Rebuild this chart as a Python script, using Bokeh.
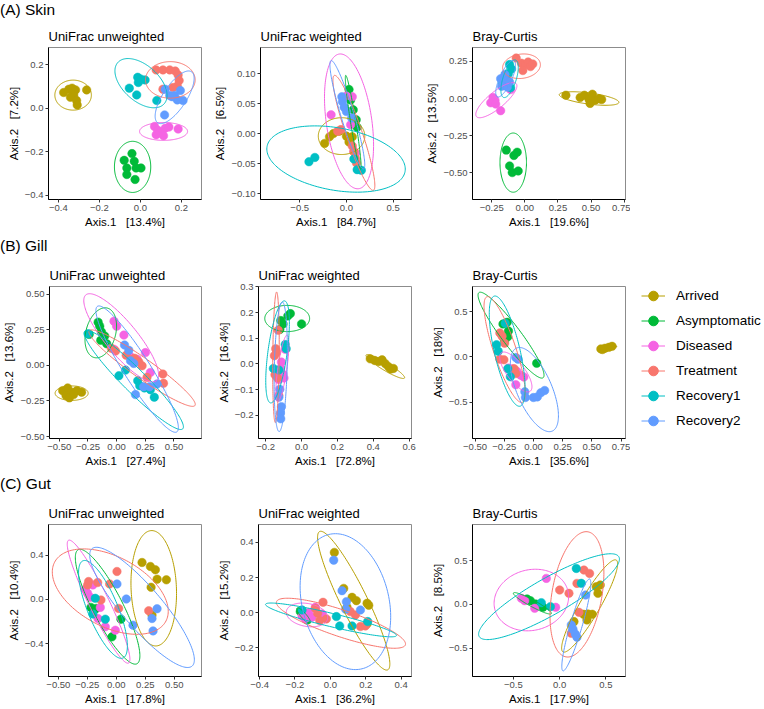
import numpy as np
from bokeh.plotting import figure
from bokeh.models import Range1d, FixedTicker, Div, Legend, LegendItem
from bokeh.layouts import row, column
from bokeh.embed import file_html
from bokeh.resources import INLINE

FONT = "Liberation Sans"
GROUPS = ["Arrived", "Asymptomatic", "Diseased", "Treatment", "Recovery1", "Recovery2"]
COLORS = ["#B79F00", "#00BA38", "#F564E3", "#F8766D", "#00BFC4", "#619CFF"]
ROW_TITLES = ["(A) Skin", "(B) Gill", "(C) Gut"]
PANEL_TITLES = ["UniFrac unweighted", "UniFrac weighted", "Bray-Curtis"]
GAP = "\u00a0\u00a0\u00a0"

# ---------------- (A) Skin ----------------
skin_unw_pts = {
    "Arrived": ([-0.374, -0.349, -0.333, -0.316, -0.325, -0.341, -0.311, -0.308, -0.262],
                [0.072, 0.087, 0.092, 0.084, 0.061, 0.050, 0.035, 0.015, 0.084]),
    "Asymptomatic": ([-0.041, -0.079, -0.030, -0.066, 0.003, -0.021, -0.066, -0.026],
                     [-0.209, -0.240, -0.244, -0.275, -0.275, -0.275, -0.305, -0.328]),
    "Diseased": ([0.069, 0.085, 0.102, 0.121, 0.139, 0.077, 0.113, 0.184],
                 [-0.084, -0.102, -0.111, -0.092, -0.087, -0.122, -0.127, -0.096]),
    "Treatment": ([0.077, 0.110, 0.143, 0.170, 0.184, 0.189, 0.180, 0.159, 0.110],
                  [0.176, 0.176, 0.176, 0.171, 0.153, 0.127, 0.102, 0.095, 0.087]),
    "Recovery1": ([-0.013, 0.003, -0.010, 0.023, -0.054, -0.018, 0.080],
                  [0.142, 0.133, 0.118, 0.130, 0.092, 0.061, 0.035]),
    "Recovery2": ([0.121, 0.143, 0.167, 0.195, 0.208, 0.180, 0.118, 0.154],
                  [0.087, 0.058, 0.058, 0.081, 0.035, 0.038, -0.031, 0.053]),
}
# ellipse: centre x, centre y, semi-axis vector u (x, y), conjugate semi-axis vector v (x, y)
skin_unw_ell = {
    "Arrived": (-0.328, 0.060, 0.089, 0.0, 0.0, 0.069),
    "Asymptomatic": (-0.038, -0.270, 0.0, 0.1176, 0.0885, 0.0),
    "Diseased": (0.113, -0.107, 0.117, 0.0, 0.0, 0.041),
    "Treatment": (0.146, 0.130, 0.121, 0.0, 0.0, 0.084),
    "Recovery1": (0.003, 0.115, 0.112, -0.096, 0.060, 0.060),
    "Recovery2": (0.167, 0.050, 0.082, 0.1176, 0.048, -0.029),
}
skin_unw_axes = ("Axis.1" + GAP + "[13.4%]", "Axis.2" + GAP + "[7.2%]")
skin_unw_xticks = [-0.4, -0.2, 0.0, 0.2]
skin_unw_xlabels = ["\u22120.4", "\u22120.2", "0.0", "0.2"]
skin_unw_yticks = [-0.4, -0.2, 0.0, 0.2]
skin_unw_ylabels = ["\u22120.4", "\u22120.2", "0.0", "0.2"]

skin_w_pts = {
    "Arrived": ([-0.233, -0.181, -0.139, -0.077, 0.0, 0.028, 0.063],
                [-0.0159, -0.0049, 0.0005, 0.0044, -0.0038, -0.0137, -0.0049]),
    "Asymptomatic": ([0.028, 0.045, 0.073, 0.105, 0.115],
                     [0.0739, 0.0564, 0.040, 0.0235, 0.011]),
    "Diseased": ([-0.164, 0.0, 0.063, 0.045, 0.080, 0.098],
                 [0.0318, 0.063, 0.0619, 0.0153, -0.0285, -0.0323]),
    "Treatment": ([-0.094, -0.059, 0.063, 0.080, 0.098, 0.108],
                  [0.0044, 0.0071, -0.0203, -0.0301, -0.0411, -0.0487]),
    "Recovery1": ([-0.401, -0.338, 0.080, 0.115, 0.160],
                  [-0.0465, -0.0394, -0.042, -0.0597, -0.0608]),
    "Recovery2": ([-0.049, -0.042, -0.024, 0.0, 0.056],
                  [0.0619, 0.0537, 0.0444, 0.0372, 0.0263]),
}
skin_w_ell = {
    "Arrived": (-0.052, -0.0038, 0.249, 0.0, 0.0, 0.0307),
    "Asymptomatic": (0.073, 0.0192, -0.080, 0.0783, 0.0275, 0.0007),
    "Diseased": (0.028, 0.0208, -0.1045, 0.1123, 0.241, 0.0055),
    "Treatment": (0.080, 0.0016, 0.209, -0.0958, 0.082, 0.0044),
    "Recovery1": (-0.111, -0.042, 0.739, -0.0208, -0.058, -0.0512),
    "Recovery2": (0.010, 0.0318, -0.174, 0.0904, 0.067, 0.0032),
}
skin_w_axes = ("Axis.1" + GAP + "[84.7%]", "Axis.2" + GAP + "[6.5%]")
skin_w_xticks = [-0.5, 0.0, 0.5]
skin_w_xlabels = ["\u22120.5", "0.0", "0.5"]
skin_w_yticks = [-0.10, -0.05, 0.0, 0.05, 0.10]
skin_w_ylabels = ["\u22120.10", "\u22120.05", "0.00", "0.05", "0.10"]

skin_bc_pts = {
    "Arrived": ([0.31, 0.4175, 0.45, 0.485, 0.51, 0.53, 0.56, 0.58, 0.4925],
                [0.022, 0.0066, 0.022, -0.0066, 0.0288, -0.011, -0.002, -0.0066, -0.033]),
    "Asymptomatic": ([-0.14, -0.0825, -0.0575, -0.115, -0.095, -0.05],
                     [-0.347, -0.383, -0.361, -0.4535, -0.498, -0.487]),
    "Diseased": ([-0.24, -0.225, -0.2575, -0.22, -0.1825, -0.1075],
                 [0.0066, -0.011, -0.0288, -0.0376, -0.082, 0.06]),
    "Treatment": ([-0.065, -0.025, 0.005, 0.025, 0.0425, 0.06, -0.015],
                  [0.272, 0.237, 0.228, 0.2456, 0.2146, 0.232, 0.188]),
    "Recovery1": ([-0.115, -0.1, -0.125, -0.17, -0.1075],
                  [0.228, 0.199, 0.166, 0.0995, 0.073]),
    "Recovery2": ([-0.1825, -0.15, -0.14, -0.175, -0.1325, -0.115],
                  [0.133, 0.1615, 0.117, 0.082, 0.077, 0.1106]),
}
skin_bc_ell = {
    "Arrived": (0.485, 0.0, 0.225, -0.0265, -0.0056, -0.037),
    "Asymptomatic": (-0.0875, -0.431, 0.0, 0.199, 0.1, 0.0),
    "Diseased": (-0.215, -0.011, 0.15, 0.1106, 0.04, -0.042),
    "Treatment": (-0.025, 0.217, 0.1425, 0.01, 0.0, 0.082),
    "Recovery1": (-0.115, 0.133, 0.045, 0.126, 0.0477, -0.0133),
    "Recovery2": (-0.145, 0.133, 0.0625, 0.1217, 0.041, -0.0166),
}
skin_bc_axes = ("Axis.1" + GAP + "[19.6%]", "Axis.2" + GAP + "[13.5%]")
skin_bc_xticks = [-0.25, 0.0, 0.25, 0.5, 0.75]
skin_bc_xlabels = ["\u22120.25", "0.00", "0.25", "0.50", "0.75"]
skin_bc_yticks = [-0.5, -0.25, 0.0, 0.25]
skin_bc_ylabels = ["\u22120.50", "\u22120.25", "0.00", "0.25"]

# ---------------- (B) Gill ----------------
gill_unw_pts = {
    "Arrived": ([-0.47, -0.4265, -0.392, -0.346, -0.305, -0.441, -0.412, -0.375],
                [-0.177, -0.158, -0.188, -0.177, -0.188, -0.212, -0.228, -0.205]),
    "Asymptomatic": ([-0.239, -0.161, -0.147, -0.1325, -0.104, -0.138, -0.0865],
                     [0.219, 0.305, 0.277, 0.237, 0.207, 0.177, 0.153]),
    "Diseased": ([-0.023, 0.0, 0.0634, -0.023, 0.115, 0.251, 0.294, 0.179],
                 [0.3116, 0.277, 0.214, 0.114, 0.0674, 0.0907, -0.049, 0.044]),
    "Treatment": ([-0.046, -0.0086, 0.0836, 0.156, 0.193, 0.222, 0.265, 0.403, 0.409],
                  [0.121, 0.102, 0.072, 0.051, 0.0256, -0.0023, -0.0837, -0.0605, -0.1256]),
    "Recovery1": ([-0.248, 0.020, 0.078, 0.184, 0.2017, 0.242, 0.294, 0.3285],
                  [0.223, -0.072, -0.0326, -0.107, -0.142, -0.158, -0.17, -0.223]),
    "Recovery2": ([0.069, 0.1066, 0.121, 0.15, 0.236, 0.288, 0.164, 0.352],
                  [0.144, 0.107, 0.0326, 0.014, -0.149, -0.149, -0.205, -0.130]),
}
gill_unw_ell = {
    "Arrived": (-0.392, -0.195, 0.144, 0.0, 0.0, 0.051),
    "Asymptomatic": (-0.138, 0.230, 0.0576, 0.174, 0.125, -0.027),
    "Diseased": (0.040, 0.195, -0.308, 0.302, 0.107, 0.071),
    "Treatment": (0.222, -0.0186, 0.461, -0.263, -0.05, -0.057),
    "Recovery1": (0.150, -0.102, 0.4265, -0.344, -0.071, -0.0575),
    "Recovery2": (0.179, -0.0256, 0.346, -0.442, -0.0975, -0.0497),
}
gill_unw_axes = ("Axis.1" + GAP + "[27.4%]", "Axis.2" + GAP + "[13.6%]")
gill_unw_xticks = [-0.5, -0.25, 0.0, 0.25, 0.5]
gill_unw_xlabels = ["\u22120.50", "\u22120.25", "0.00", "0.25", "0.50"]
gill_unw_yticks = [-0.5, -0.25, 0.0, 0.25, 0.5]
gill_unw_ylabels = ["\u22120.50", "\u22120.25", "0.00", "0.25", "0.50"]

gill_w_pts = {
    "Arrived": ([0.383, 0.408, 0.431, 0.449, 0.467, 0.485, 0.497, 0.512],
                [0.0199, 0.0136, 0.0099, 0.0161, 0.0012, -0.011, -0.0199, -0.0174]),
    "Asymptomatic": ([-0.116, -0.103, -0.0766, -0.0624, 0.0, -0.121],
                     [0.169, 0.156, 0.187, 0.196, 0.156, 0.134]),
    "Diseased": ([-0.091, -0.112, -0.116, -0.1034, -0.1266, -0.098],
                 [0.057, 0.0074, -0.0174, -0.0397, -0.0608, -0.0546]),
    "Treatment": ([-0.130, -0.144, -0.1515, -0.139, -0.148, -0.134, -0.1266],
                  [0.1315, 0.0596, 0.0323, 0.0447, -0.042, -0.0546, -0.1228]),
    "Recovery1": ([-0.157, -0.091, -0.0856, -0.1266],
                  [-0.0174, 0.0757, 0.0596, -0.0236]),
    "Recovery2": ([-0.121, -0.1266, -0.1123, -0.1176, -0.116],
                  [-0.098, -0.129, -0.166, -0.191, -0.2134]),
}
gill_w_ell = {
    "Arrived": (0.467, -0.0099, 0.107, -0.0447, -0.011, -0.0128),
    "Asymptomatic": (-0.080, 0.177, 0.125, 0.0, 0.0, 0.051),
    "Diseased": (-0.107, -0.0174, 0.0267, 0.130, 0.0248, -0.0025),
    "Treatment": (-0.1426, 0.026, 0.0036, 0.254, 0.0178, 0.0),
    "Recovery1": (-0.1337, 0.047, 0.039, 0.1985, 0.053, -0.0051),
    "Recovery2": (-0.116, -0.011, -0.0089, -0.252, 0.0357, 0.0),
}
gill_w_axes = ("Axis.1" + GAP + "[72.8%]", "Axis.2" + GAP + "[16.4%]")
gill_w_xticks = [-0.2, 0.0, 0.2, 0.4, 0.6]
gill_w_xlabels = ["\u22120.2", "0.0", "0.2", "0.4", "0.6"]
gill_w_yticks = [-0.2, -0.1, 0.0, 0.1, 0.2, 0.3]
gill_w_ylabels = ["\u22120.2", "\u22120.1", "0.0", "0.1", "0.2", "0.3"]

gill_bc_pts = {
    "Arrived": ([0.577, 0.6126, 0.6456, 0.673, 0.591],
                [0.0887, 0.0957, 0.106, 0.117, 0.0816]),
    "Asymptomatic": ([-0.261, -0.225, -0.214, -0.22, -0.247, 0.0275],
                     [0.365, 0.383, 0.287, 0.223, 0.181, -0.071]),
    "Diseased": ([-0.214, -0.1786, -0.143, -0.11, -0.0824, -0.151],
                 [-0.124, -0.131, -0.16, -0.202, -0.223, -0.3085]),
    "Treatment": ([-0.288, -0.269, -0.247, -0.288, -0.253, -0.151, -0.165],
                  [0.266, 0.230, 0.152, -0.0248, -0.032, -0.184, -0.131]),
    "Recovery1": ([-0.316, -0.302, -0.242, -0.198, -0.22],
                  [0.1348, 0.0638, 0.372, -0.22, -0.131]),
    "Recovery2": ([-0.151, -0.132, -0.074, -0.0687, 0.0, 0.033, 0.063, 0.096],
                  [-0.007, -0.025, -0.3865, -0.45, -0.45, -0.443, -0.397, -0.372]),
}
gill_bc_ell = {
    "Arrived": (0.632, 0.099, 0.0824, 0.0177, -0.003, 0.014),
    "Asymptomatic": (-0.192, 0.241, 0.2747, -0.4716, -0.066, -0.0638),
    "Diseased": (-0.151, -0.1667, 0.1236, -0.2128, -0.0615, -0.0596),
    "Treatment": (-0.247, 0.0816, 0.151, -0.585, -0.091, -0.039),
    "Recovery1": (-0.225, 0.0638, 0.11, -0.61, -0.107, -0.032),
    "Recovery2": (0.008, -0.362, 0.151, -0.461, -0.14, -0.07),
}
gill_bc_axes = ("Axis.1" + GAP + "[35.6%]", "Axis.2" + GAP + "[18%]")
gill_bc_xticks = [-0.5, -0.25, 0.0, 0.25, 0.5, 0.75]
gill_bc_xlabels = ["\u22120.50", "\u22120.25", "0.00", "0.25", "0.50", "0.75"]
gill_bc_yticks = [-0.5, 0.0, 0.5]
gill_bc_ylabels = ["\u22120.5", "0.0", "0.5"]

# ---------------- (C) Gut ----------------
gut_unw_pts = {
    "Arrived": ([0.222, 0.294, 0.337, 0.352, 0.432, 0.30, 0.308],
                [0.333, 0.297, 0.267, 0.182, 0.176, 0.109, -0.142]),
    "Asymptomatic": ([-0.219, -0.173, -0.196, -0.0375, 0.040],
                     [-0.0727, -0.082, -0.103, -0.339, -0.179]),
    "Diseased": ([-0.268, -0.248, -0.225, -0.138, -0.1585, -0.095, -0.0086, -0.202],
                 [0.0909, 0.0545, 0.018, -0.0727, -0.173, -0.248, -0.279, 0.130]),
    "Treatment": ([0.0058, -0.239, -0.161, -0.0576, -0.1326, 0.020, 0.2795, -0.248],
                  [0.2515, 0.161, 0.1515, 0.139, -0.006, -0.082, -0.103, 0.130]),
    "Recovery1": ([-0.1815, -0.095, -0.2017],
                  [0.009, -0.179, -0.133]),
    "Recovery2": ([0.0058, 0.0865, 0.144, 0.3516, 0.308, 0.317],
                  [0.139, 0.003, -0.233, -0.085, -0.173, -0.285]),
}
gut_unw_ell = {
    "Arrived": (0.323, 0.100, -0.015, 0.521, 0.196, -0.006),
    "Asymptomatic": (-0.075, -0.0667, 0.2536, -0.515, -0.115, -0.0627),
    "Diseased": (-0.153, -0.021, 0.259, -0.5545, -0.0775, -0.04),
    "Treatment": (-0.052, 0.0697, 0.49, -0.2424, -0.1, -0.3),
    "Recovery1": (-0.115, -0.091, 0.173, -0.439, -0.12, -0.052),
    "Recovery2": (0.222, -0.0727, 0.432, -0.53, -0.131, -0.118),
}
gut_unw_axes = ("Axis.1" + GAP + "[17.8%]", "Axis.2" + GAP + "[10.4%]")
gut_unw_xticks = [-0.5, -0.25, 0.0, 0.25, 0.5]
gut_unw_xlabels = ["\u22120.50", "\u22120.25", "0.00", "0.25", "0.50"]
gut_unw_yticks = [-0.4, 0.0, 0.4]
gut_unw_ylabels = ["\u22120.4", "0.0", "0.4"]

gut_w_pts = {
    "Arrived": ([0.0226, 0.0755, 0.1226, 0.147, 0.0943, 0.2075, 0.217, 0.2075],
                [0.343, 0.138, 0.087, 0.068, 0.030, 0.053, 0.0417, -0.064]),
    "Asymptomatic": ([-0.17, -0.155, -0.145, -0.132],
                     [0.0057, -0.0076, -0.0227, -0.0417]),
    "Diseased": ([-0.085, -0.1226, -0.104, -0.1415, -0.16, -0.047],
                 [0.030, 0.0, -0.0265, -0.036, -0.019, -0.0076]),
    "Treatment": ([-0.0415, -0.085, -0.0717, -0.060, -0.0226, 0.113, 0.1415, 0.17, 0.198],
                  [0.0587, 0.0246, -0.0038, -0.045, -0.036, 0.0057, -0.0133, -0.0795, -0.0758]),
    "Recovery1": ([0.034, 0.0528, 0.1226, 0.211, -0.16],
                  [-0.0227, -0.0758, -0.0758, -0.051, 0.015]),
    "Recovery2": ([0.0189, 0.066, 0.0906, 0.0868, 0.17],
                  [0.299, 0.125, 0.0625, 0.019, 0.015]),
}
gut_w_ell = {
    "Arrived": (0.132, 0.068, -0.1925, 0.394, 0.068, 0.0333),
    "Asymptomatic": (-0.151, -0.017, 0.0377, -0.0436, -0.0113, -0.0099),
    "Diseased": (-0.132, -0.0133, 0.117, -0.015, 0.0, 0.066),
    "Treatment": (0.060, -0.0606, 0.364, -0.123, -0.024, -0.072),
    "Recovery1": (0.0038, -0.0417, 0.37, -0.089, -0.0088, -0.0368),
    "Recovery2": (0.085, 0.0625, -0.094, 0.3826, 0.238, 0.059),
}
gut_w_axes = ("Axis.1" + GAP + "[36.2%]", "Axis.2" + GAP + "[15.2%]")
gut_w_xticks = [-0.4, -0.2, 0.0, 0.2, 0.4]
gut_w_xlabels = ["\u22120.4", "\u22120.2", "0.0", "0.2", "0.4"]
gut_w_yticks = [-0.2, 0.0, 0.2, 0.4]
gut_w_ylabels = ["\u22120.2", "0.0", "0.2", "0.4"]

gut_bc_pts = {
    "Arrived": ([0.3957, 0.439, 0.4137, 0.259, 0.306, 0.3525, 0.295, 0.1547],
                [0.2015, 0.2205, 0.1255, -0.114, -0.110, -0.114, -0.1787, -0.1977]),
    "Asymptomatic": ([-0.3525, -0.3165, -0.259, -0.2086, -0.18],
                     [0.061, 0.0418, 0.0038, -0.0076, -0.034]),
    "Diseased": ([-0.144, -0.4137, -0.378, -0.27, -0.043],
                 [0.2966, 0.0684, 0.0418, -0.0456, -0.034]),
    "Treatment": ([0.2626, 0.3237, 0.0, 0.1007, 0.187, 0.2086, 0.126],
                  [0.3916, 0.3536, 0.1635, 0.1255, 0.2395, -0.0913, -0.331]),
    "Recovery1": ([0.18, 0.234, -0.198, -0.10],
                  [0.41, 0.24, 0.019, -0.0266]),
    "Recovery2": ([0.2806, 0.126, 0.144, 0.169, 0.187],
                  [0.1065, -0.2357, -0.285, -0.338, -0.376]),
}
gut_bc_ell = {
    "Arrived": (0.324, -0.019, 0.288, 0.5247, 0.0935, -0.057),
    "Asymptomatic": (-0.295, 0.0114, 0.205, -0.118, -0.017, -0.0335),
    "Diseased": (-0.306, 0.049, 0.403, 0.038, 0.0, 0.35),
    "Treatment": (0.187, 0.114, 0.1187, 0.7148, 0.266, -0.049),
    "Recovery1": (-0.115, 0.0875, 0.755, 0.456, 0.098, -0.181),
    "Recovery2": (0.18, -0.2357, 0.144, 0.5247, 0.062, -0.019),
}
gut_bc_axes = ("Axis.1" + GAP + "[17.9%]", "Axis.2" + GAP + "[8.5%]")
gut_bc_xticks = [-0.5, 0.0, 0.5]
gut_bc_xlabels = ["\u22120.5", "0.0", "0.5"]
gut_bc_yticks = [-0.5, 0.0, 0.5]
gut_bc_ylabels = ["\u22120.5", "0.0", "0.5"]

# axis limits of each panel (x0, x1, y0, y1)
LIMITS = {
    "skin_unw": (-0.448, 0.298, -0.42, 0.279),
    "skin_w": (-0.92, 0.697, -0.1095, 0.144),
    "skin_bc": (-0.395, 0.76, -0.679, 0.343),
    "gill_unw": (-0.585, 0.74, -0.514, 0.556),
    "gill_w": (-0.24, 0.613, -0.29, 0.3015),
    "gill_bc": (-0.522, 0.788, -0.904, 0.78),
    "gut_unw": (-0.585, 0.735, -0.697, 0.676),
    "gut_w": (-0.406, 0.4585, -0.364, 0.502),
    "gut_bc": (-0.9425, 0.712, -0.825, 0.9125),
}

FIG_H = 208
TOP, BOTTOM = 25, 31
COL_W = [211, 211, 208]
COL_L = [48, 47, 50]
COL_R = [10, 11, 5]


def ellipse_path(e, n=161):
    cx, cy, ux, uy, vx, vy = e
    t = np.linspace(0.0, 2.0 * np.pi, n)
    return cx + ux * np.cos(t) + vx * np.sin(t), cy + uy * np.cos(t) + vy * np.sin(t)


def panel(key, col, pts, ells, axes, xt, xl, yt, yl, title):
    x0, x1, y0, y1 = LIMITS[key]
    p = figure(width=COL_W[col], height=FIG_H, x_range=Range1d(x0, x1), y_range=Range1d(y0, y1),
               output_backend="svg", toolbar_location=None,
               min_border_left=COL_L[col], min_border_right=COL_R[col],
               min_border_top=TOP, min_border_bottom=BOTTOM)
    p.title.text = title
    p.title.text_font = FONT
    p.title.text_font_size = "13px"
    p.title.text_font_style = "normal"
    p.title.text_color = "#000000"
    p.title.align = "left"
    p.title.standoff = 8
    p.grid.visible = False
    p.outline_line_color = "#8C8C8C"
    p.outline_line_width = 1
    p.background_fill_color = "white"
    p.border_fill_color = "white"

    p.xaxis.ticker = FixedTicker(ticks=xt)
    p.xaxis.major_label_overrides = {t: s for t, s in zip(xt, xl)}
    p.yaxis.ticker = FixedTicker(ticks=yt)
    p.yaxis.major_label_overrides = {t: s for t, s in zip(yt, yl)}
    p.xaxis.axis_label = axes[0]
    p.yaxis.axis_label = axes[1]
    for ax in (p.xaxis[0], p.yaxis[0]):
        ax.axis_label_text_font = FONT
        ax.axis_label_text_font_size = "11.5px"
        ax.axis_label_text_font_style = "normal"
        ax.axis_label_text_color = "#000000"
        ax.axis_label_standoff = 2
        ax.major_label_text_font = FONT
        ax.major_label_text_font_size = "9.5px"
        ax.major_label_text_color = "#4D4D4D"
        ax.major_label_standoff = 2
        ax.major_tick_in = 0
        ax.major_tick_out = 3
        ax.major_tick_line_color = "#333333"
        ax.minor_tick_line_color = None
        ax.axis_line_color = "#000000"
        ax.axis_line_width = 1

    for g, c in zip(GROUPS, COLORS):
        xs, ys = pts[g]
        p.scatter(xs, ys, size=8.5, fill_color=c, line_color=c, line_width=0.5)
    for g, c in zip(GROUPS, COLORS):
        ex, ey = ellipse_path(ells[g])
        p.line(ex, ey, line_color=c, line_width=1)
    return p


def header(text, height, pad):
    html = ('<div style="font-family:\'%s\',Arial,sans-serif;font-size:15.5px;line-height:18px;'
            'color:#000;padding-top:%dpx;white-space:nowrap">%s</div>' % (FONT, pad, text))
    return Div(text=html, width=300, height=height, margin=(0, 0, 0, 0))


row_a = row(
    panel("skin_unw", 0, skin_unw_pts, skin_unw_ell, skin_unw_axes, skin_unw_xticks, skin_unw_xlabels,
          skin_unw_yticks, skin_unw_ylabels, PANEL_TITLES[0]),
    panel("skin_w", 1, skin_w_pts, skin_w_ell, skin_w_axes, skin_w_xticks, skin_w_xlabels,
          skin_w_yticks, skin_w_ylabels, PANEL_TITLES[1]),
    panel("skin_bc", 2, skin_bc_pts, skin_bc_ell, skin_bc_axes, skin_bc_xticks, skin_bc_xlabels,
          skin_bc_yticks, skin_bc_ylabels, PANEL_TITLES[2]),
)

# legend-only figure (its renderers hold a single NaN so that nothing is drawn in the frame)
leg = figure(width=134, height=FIG_H, x_range=Range1d(0, 1), y_range=Range1d(0, 1),
             output_backend="svg", toolbar_location=None, x_axis_location=None, y_axis_location=None,
             min_border=0)
leg.grid.visible = False
leg.outline_line_color = None
items = []
for g, c in zip(GROUPS, COLORS):
    lr = leg.line([np.nan], [np.nan], line_color=c, line_width=1)
    sr = leg.scatter([np.nan], [np.nan], size=11, fill_color=c, line_color=c)
    items.append(LegendItem(label=g, renderers=[lr, sr]))
legend = Legend(items=items, location=(11, 5), orientation="vertical",
                glyph_width=24, glyph_height=25, label_height=25, spacing=0,
                label_standoff=11, padding=0, margin=0,
                border_line_color=None, background_fill_alpha=0,
                label_text_font=FONT, label_text_font_size="13.5px", label_text_color="#000000")
leg.add_layout(legend)

row_b = row(
    panel("gill_unw", 0, gill_unw_pts, gill_unw_ell, gill_unw_axes, gill_unw_xticks, gill_unw_xlabels,
          gill_unw_yticks, gill_unw_ylabels, PANEL_TITLES[0]),
    panel("gill_w", 1, gill_w_pts, gill_w_ell, gill_w_axes, gill_w_xticks, gill_w_xlabels,
          gill_w_yticks, gill_w_ylabels, PANEL_TITLES[1]),
    panel("gill_bc", 2, gill_bc_pts, gill_bc_ell, gill_bc_axes, gill_bc_xticks, gill_bc_xlabels,
          gill_bc_yticks, gill_bc_ylabels, PANEL_TITLES[2]),
    leg,
)

row_c = row(
    panel("gut_unw", 0, gut_unw_pts, gut_unw_ell, gut_unw_axes, gut_unw_xticks, gut_unw_xlabels,
          gut_unw_yticks, gut_unw_ylabels, PANEL_TITLES[0]),
    panel("gut_w", 1, gut_w_pts, gut_w_ell, gut_w_axes, gut_w_xticks, gut_w_xlabels,
          gut_w_yticks, gut_w_ylabels, PANEL_TITLES[1]),
    panel("gut_bc", 2, gut_bc_pts, gut_bc_ell, gut_bc_axes, gut_bc_xticks, gut_bc_xlabels,
          gut_bc_yticks, gut_bc_ylabels, PANEL_TITLES[2]),
)

page = column(
    header(ROW_TITLES[0], 22, 1), row_a,
    header(ROW_TITLES[1], 31, 7), row_b,
    header(ROW_TITLES[2], 30, 6), row_c,
)

open("out.html", "w").write(file_html(page, INLINE))
